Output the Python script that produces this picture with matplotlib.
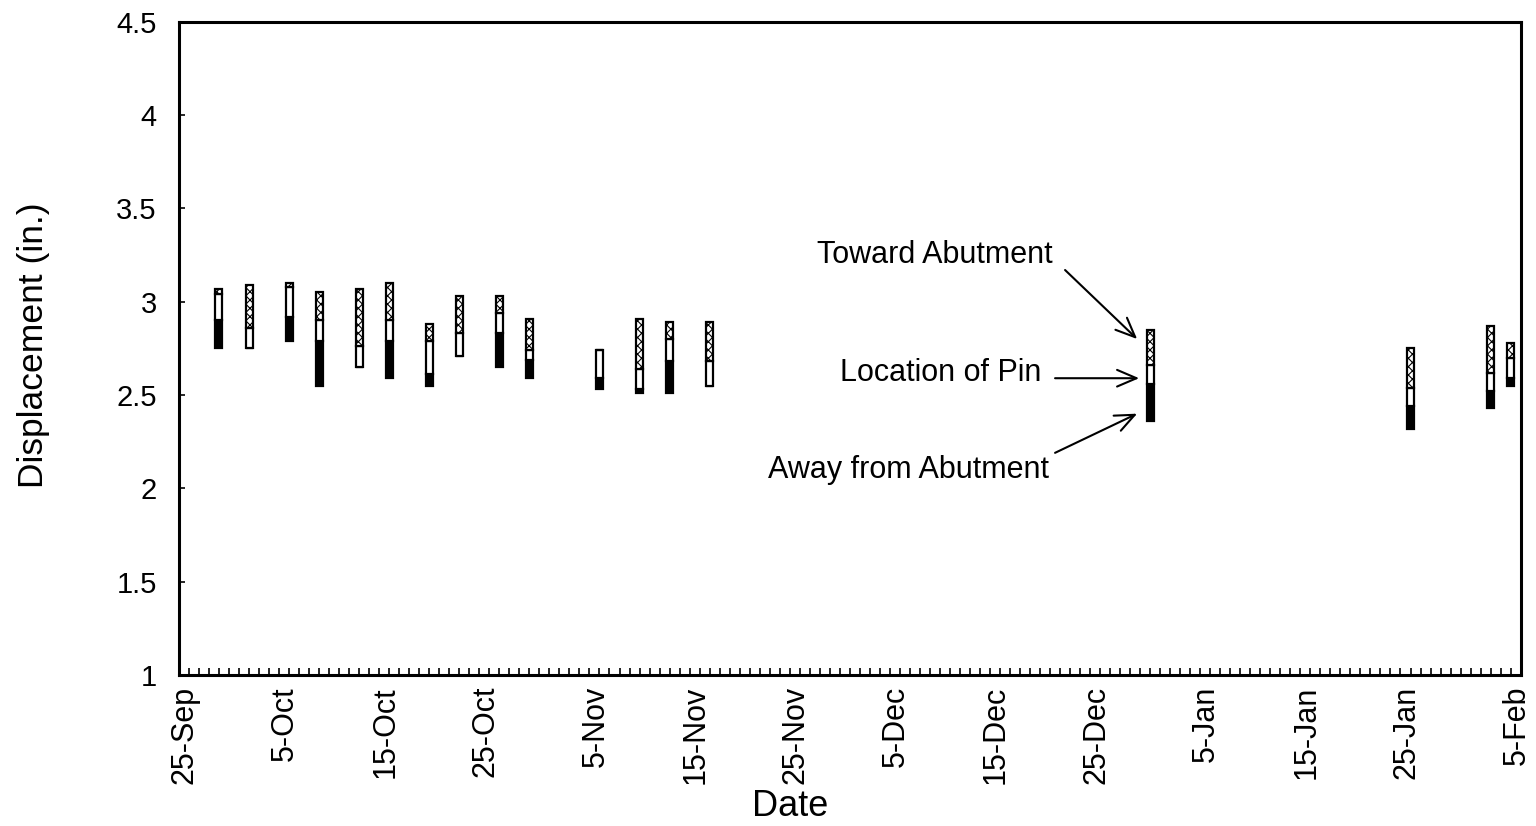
import datetime as dt
import numpy as np
import matplotlib
matplotlib.use('Agg')
import matplotlib.pyplot as plt
import matplotlib.dates as mdates
import matplotlib.transforms as mtransforms
from matplotlib.ticker import FuncFormatter, MultipleLocator

plt.rcParams['font.family'] = ['Liberation Sans', 'DejaVu Sans']
plt.rcParams['hatch.linewidth'] = 0.8

# survey dates (year is arbitrary)
dates = ['1995-09-29', '1995-10-02', '1995-10-06', '1995-10-09', '1995-10-13',
         '1995-10-16', '1995-10-20', '1995-10-23', '1995-10-27', '1995-10-30',
         '1995-11-06', '1995-11-10', '1995-11-13', '1995-11-17', '1995-12-31',
         '1996-01-26', '1996-02-03', '1996-02-05']
# displacement readings (in.)
toward_top = [3.07, 3.09, 3.10, 3.05, 3.07, 3.10, 2.88, 3.03, 3.03, 2.91,
              2.74, 2.91, 2.89, 2.89, 2.85, 2.75, 2.87, 2.78]
pin_top = [3.04, 2.86, 3.08, 2.90, 2.76, 2.90, 2.79, 2.83, 2.94, 2.74,
           2.74, 2.64, 2.80, 2.68, 2.66, 2.54, 2.62, 2.70]
pin_bottom = [2.90, 2.75, 2.92, 2.79, 2.65, 2.79, 2.61, 2.71, 2.83, 2.69,
              2.59, 2.53, 2.68, 2.55, 2.56, 2.44, 2.52, 2.59]
away_bottom = [2.75, 2.75, 2.79, 2.55, 2.65, 2.59, 2.55, 2.71, 2.65, 2.59,
               2.53, 2.51, 2.51, 2.55, 2.36, 2.32, 2.43, 2.55]

x = mdates.date2num([dt.datetime.strptime(d, '%Y-%m-%d') for d in dates])
toward_top = np.array(toward_top)
pin_top = np.array(pin_top)
pin_bottom = np.array(pin_bottom)
away_bottom = np.array(away_bottom)

fig = plt.figure(figsize=(15.36, 8.26), dpi=100)
ax = fig.add_axes([0.1165, 0.183, 0.8735, 0.7905])

w = 0.7
ax.bar(x, pin_bottom - away_bottom, w, bottom=away_bottom, color='black',
       edgecolor='black', linewidth=1.6, zorder=3)
ax.bar(x, pin_top - pin_bottom, w, bottom=pin_bottom, color='white',
       edgecolor='black', linewidth=1.6, zorder=3)
ax.bar(x, toward_top - pin_top, w, bottom=pin_top, color='white',
       edgecolor='black', hatch='xxxx', linewidth=1.6, zorder=3)

x0 = mdates.date2num(dt.datetime(1995, 9, 25))
ax.set_xlim(x0, x0 + 134)
ax.set_ylim(1, 4.5)

ax.xaxis.set_major_locator(mdates.DayLocator(bymonthday=[5, 15, 25]))
ax.xaxis.set_minor_locator(mdates.DayLocator(interval=1))
ax.xaxis.set_major_formatter(FuncFormatter(
    lambda v, p: '%d-%s' % (mdates.num2date(v).day, mdates.num2date(v).strftime('%b'))))
ax.yaxis.set_major_locator(MultipleLocator(0.5))
ax.yaxis.set_major_formatter(FuncFormatter(lambda v, p: ('%g' % v)))

ax.tick_params(axis='x', which='both', direction='in', length=5, width=1.2,
               labelsize=22, labelrotation=90, pad=8)
ax.tick_params(axis='y', which='major', direction='in', length=4, width=1.2,
               labelsize=21, pad=16)
for s in ax.spines.values():
    s.set_linewidth(2.2)

# date labels sit a little right of their ticks
shift = mtransforms.ScaledTranslation(6 / 100, 0, fig.dpi_scale_trans)
for lbl in ax.get_xticklabels():
    lbl.set_transform(lbl.get_transform() + shift)

fig.text(790 / 1536, 1 - 807 / 826, 'Date', fontsize=26, ha='center', va='center')
fig.text(34 / 1536, 1 - 345 / 826, 'Displacement (in.)', fontsize=25.5,
         rotation=90, ha='center', va='center')

arrow = dict(arrowstyle='->,head_length=1.4,head_width=0.6', color='black',
             lw=1.5, shrinkA=0, shrinkB=0)
ax.text(x0 + 75.5, 3.25, 'Toward Abutment', fontsize=22, ha='center', va='center')
ax.text(x0 + 76.1, 2.62, 'Location of Pin', fontsize=22, ha='center', va='center')
ax.text(x0 + 72.9, 2.10, 'Away from Abutment', fontsize=22, ha='center', va='center')
ax.annotate('', xy=(x0 + 95.7, 2.80), xytext=(x0 + 88.5, 3.17), arrowprops=arrow)
ax.annotate('', xy=(x0 + 95.9, 2.59), xytext=(x0 + 87.5, 2.59), arrowprops=arrow)
ax.annotate('', xy=(x0 + 95.7, 2.40), xytext=(x0 + 87.5, 2.19), arrowprops=arrow)

fig.savefig('out.png', dpi=100)
